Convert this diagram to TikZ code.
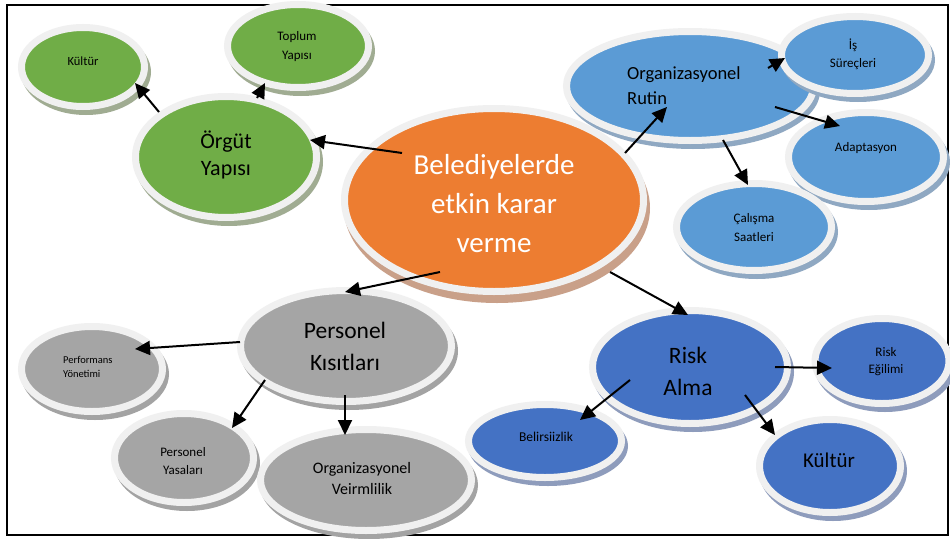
\documentclass[tikz,border=0pt]{standalone}
\usepackage{fontspec}
\setmainfont{Carlito}
\usetikzlibrary{arrows.meta,shapes.geometric}
\definecolor{cgreen}{HTML}{70AD47}
\definecolor{corange}{HTML}{ED7D31}
\definecolor{clblue}{HTML}{5B9BD5}
\definecolor{cgray}{HTML}{A5A5A5}
\definecolor{cdblue}{HTML}{4472C4}
\definecolor{ringc}{HTML}{F0F0F0}
\definecolor{sgreen}{HTML}{A0AC92}
\definecolor{sorange}{HTML}{C9A089}
\definecolor{slblue}{HTML}{8FA8C2}
\definecolor{sgray}{HTML}{A3A3A3}
\definecolor{sdblue}{HTML}{8E9CBC}
\tikzset{
  bub/.style={ellipse, inner sep=0pt, outer sep=0pt, draw=ringc, line width=7pt},
  lbl/.style={align=center, inner sep=0pt, text=black},
  arr/.style={-{Triangle[length=15pt,width=14pt]}, line width=2pt, black},
}
% name, x, y, path rx, path ry, fill, shadow colour, shadow dy
\newcommand\bubl[8]{%
  \fill[#7] (#2+3,#3+#8) ellipse [x radius=#4pt+3.5pt, y radius=#5pt+3.5pt];
  \node[bub, fill=#6, minimum width={2*#4pt}, minimum height={2*#5pt}] (#1) at (#2,#3) {};
}
\begin{document}
\begin{tikzpicture}[x=1pt,y=-1pt]
\useasboundingbox (0,0) rectangle (950,538);
\fill[white] (0,0) rectangle (950,538);
\draw[line width=2.2pt] (7,5) rectangle (948,535);

% bubbles
\bubl{c}{494}{200}{149.5}{91.5}{corange}{sorange}{8}
\bubl{o}{226}{157}{90.5}{60.5}{cgreen}{sgreen}{5}
\bubl{k1}{83}{67}{61.5}{39.5}{cgreen}{sgreen}{5}
\bubl{tp}{298}{46}{70.5}{41.5}{cgreen}{sgreen}{5}
\bubl{r}{690}{86}{123.5}{54.5}{clblue}{slblue}{5}
\bubl{is}{855}{55}{73.5}{38.5}{clblue}{slblue}{5}
\bubl{ad}{866}{157}{77.5}{44.5}{clblue}{slblue}{5}
\bubl{cs}{754}{227}{77.5}{43.5}{clblue}{slblue}{5}
\bubl{p}{346}{346}{105.5}{55.5}{cgray}{sgray}{5}
\bubl{pf}{92}{369}{70.5}{42.5}{cgray}{sgray}{5}
\bubl{py}{184}{458}{69.5}{44.5}{cgray}{sgray}{5}
\bubl{ov}{366}{480}{105.5}{50.5}{cgray}{sgray}{5}
\bubl{ra}{690}{367}{97.5}{56.5}{cdblue}{sdblue}{5}
\bubl{re}{882}{361}{67}{42.5}{cdblue}{sdblue}{5}
\bubl{be}{545}{441}{76.5}{36.5}{cdblue}{sdblue}{5}
\bubl{kb}{830}{466}{70.5}{46.5}{cdblue}{sdblue}{5}

% texts
\node[lbl, text=white, font=\fontsize{29}{39}\selectfont] (tc) at (494,204) {Belediyelerde\\etkin karar\\verme};
\node[lbl, font=\fontsize{22}{27}\selectfont] (to) at (226,155) {Örgüt\\Yapısı};
\node[lbl, font=\fontsize{12.5}{17}\selectfont] (tk1) at (83,61) {Kültür};
\node[lbl, font=\fontsize{13}{19}\selectfont] (ttp) at (297,47) {Toplum\\Yapısı};
\node[lbl, align=left, anchor=west, font=\fontsize{18.5}{25}\selectfont] (tr) at (627,86) {Organizasyonel\\Rutin};
\node[lbl, font=\fontsize{13}{18}\selectfont] (tis) at (853,54) {İş\\Süreçleri};
\node[lbl, font=\fontsize{13}{18}\selectfont] (tad) at (866,148) {Adaptasyon};
\node[lbl, font=\fontsize{13}{19}\selectfont] (tcs) at (754,228) {Çalışma\\Saatleri};
\node[lbl, font=\fontsize{23.5}{32}\selectfont] (tp) at (345,346) {Personel\\Kısıtları};
\node[lbl, align=left, anchor=west, font=\fontsize{10.5}{14}\selectfont] (tpf) at (63,367) {Performans\\Yönetimi};
\node[lbl, font=\fontsize{13}{18}\selectfont] (tpy) at (183,461) {Personel\\Yasaları};
\node[lbl, font=\fontsize{16}{21}\selectfont] (tov) at (362,478) {Organizasyonel\\Veirmlilik};
\node[lbl, font=\fontsize{23.5}{32}\selectfont] (tra) at (688,371) {Risk\\Alma};
\node[lbl, font=\fontsize{13}{17}\selectfont] (tre) at (886,362) {Risk\\Eğilimi};
\node[lbl, font=\fontsize{13.5}{17}\selectfont] (tbe) at (546,437) {Belirsiizlik};
\node[lbl, font=\fontsize{21}{25}\selectfont] (tkb) at (829,460) {Kültür};

% arrow end points
\coordinate (c-o-s) at (402,153);  \coordinate (c-o-e) at (310,140);
\coordinate (o-k-s) at (159,112);  \coordinate (o-k-e) at (135,83);
\coordinate (o-t-s) at (257,98);   \coordinate (o-t-e) at (265,83);
\coordinate (c-r-s) at (625,153);  \coordinate (c-r-e) at (667,107);
\coordinate (r-i-s) at (768,68);   \coordinate (r-i-e) at (785,58);
\coordinate (r-a-s) at (775,107);  \coordinate (r-a-e) at (840,126);
\coordinate (r-c-s) at (723,140);  \coordinate (r-c-e) at (748,185);
\coordinate (c-ra-s) at (610,272); \coordinate (c-ra-e) at (688,315);
\coordinate (c-p-s) at (440,272);  \coordinate (c-p-e) at (345,292);
\coordinate (p-f-s) at (240,342);  \coordinate (p-f-e) at (135,349);
\coordinate (p-y-s) at (265,380);  \coordinate (p-y-e) at (232,428);
\coordinate (p-v-s) at (345,395);  \coordinate (p-v-e) at (345,435);
\coordinate (a-b-s) at (630,380);  \coordinate (a-b-e) at (580,420);
\coordinate (a-e-s) at (775,367);  \coordinate (a-e-e) at (832,368);
\coordinate (a-k-s) at (745,395);  \coordinate (a-k-e) at (775,435);

\draw[arr] (c-o-s) -- (c-o-e);
\draw[arr] (o-k-s) -- (o-k-e);
\draw[arr] (o-t-s) -- (o-t-e);
\draw[arr] (c-r-s) -- (c-r-e);
\draw[arr] (r-i-s) -- (r-i-e);
\draw[arr] (r-a-s) -- (r-a-e);
\draw[arr] (r-c-s) -- (r-c-e);
\draw[arr] (c-ra-s) -- (c-ra-e);
\draw[arr] (c-p-s) -- (c-p-e);
\draw[arr] (p-f-s) -- (p-f-e);
\draw[arr] (p-y-s) -- (p-y-e);
\draw[arr] (p-v-s) -- (p-v-e);
\draw[arr] (a-b-s) -- (a-b-e);
\draw[arr] (a-e-s) -- (a-e-e);
\draw[arr] (a-k-s) -- (a-k-e);
\end{tikzpicture}
\end{document}
